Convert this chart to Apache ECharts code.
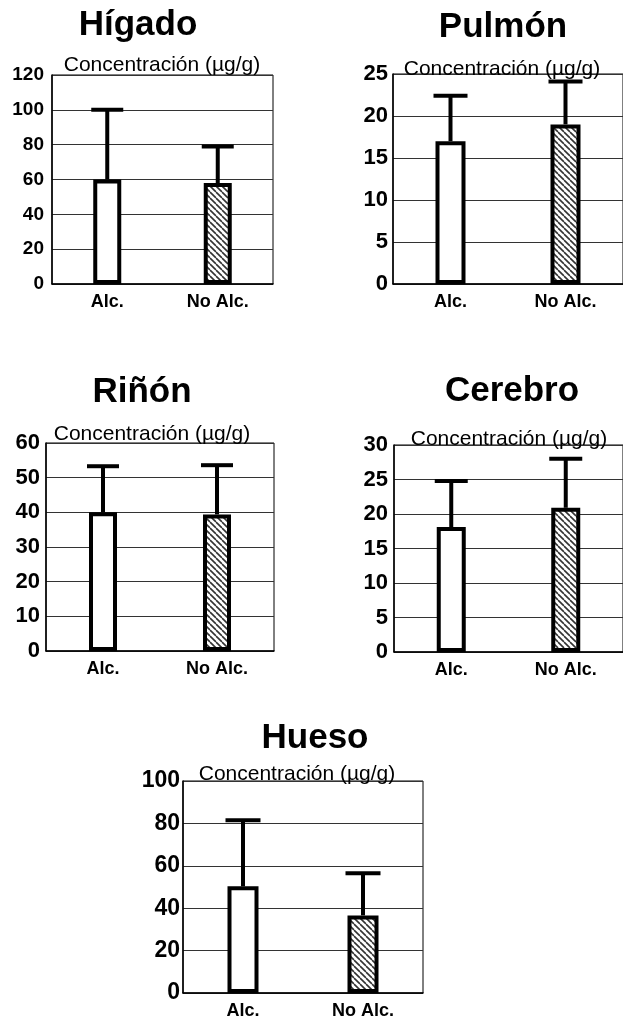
<!DOCTYPE html>
<html>
<head>
<meta charset="utf-8">
<script src="https://cdn.jsdelivr.net/npm/echarts@6/dist/echarts.min.js"></script>
<style>
  html, body { margin: 0; padding: 0; background: #fff; }
  #chart { width: 623px; height: 1020px; }
</style>
</head>
<body>
<div id="chart"></div>
<script>
// datos
var categorias = ['Alc.', 'No Alc.'];
var organos = ['Hígado', 'Pulmón', 'Riñón', 'Cerebro', 'Hueso'];
var unidad = 'Concentración (µg/g)';

var higadoMedia = [60, 58];
var higadoMax = [100, 79];
var pulmonMedia = [17, 19];
var pulmonMax = [22.4, 24.1];
var rinonMedia = [40, 39.4];
var rinonMax = [53.3, 53.6];
var cerebroMedia = [18.1, 20.9];
var cerebroMax = [24.8, 28];
var huesoMedia = [50.3, 36.6];
var huesoMax = [81.5, 56.5];

var yMax = [120, 25, 60, 30, 100];
var yPaso = [20, 5, 10, 5, 20];

var medias = [higadoMedia, pulmonMedia, rinonMedia, cerebroMedia, huesoMedia];
var maximos = [higadoMax, pulmonMax, rinonMax, cerebroMax, huesoMax];

// posicion de cada panel
var paneles = [
  { left: 52, top: 75, width: 221, height: 209, tx: 138, ty: 25, sx: 162, sy: 65, tick: 19, margen: 8, barra: 28 },
  { left: 393, top: 74, width: 236, height: 210, tx: 503, ty: 27, sx: 502, sy: 69, tick: 22, margen: 5, barra: 30 },
  { left: 46, top: 443, width: 228, height: 208, tx: 142, ty: 392, sx: 152, sy: 434, tick: 22, margen: 6, barra: 28 },
  { left: 394, top: 445, width: 234, height: 207, tx: 512, ty: 391, sx: 509, sy: 439, tick: 22, margen: 6, barra: 29 },
  { left: 183, top: 781, width: 240, height: 212, tx: 315, ty: 738, sx: 297, sy: 774, tick: 23, margen: 3, barra: 31 }
];

var fuente = '"Liberation Sans", Arial, Helvetica, sans-serif';

// rayado diagonal para "No Alc."
var rayado = document.createElement('canvas');
rayado.width = 6;
rayado.height = 6;
var ctx = rayado.getContext('2d');
ctx.fillStyle = '#fff';
ctx.fillRect(0, 0, 6, 6);
ctx.strokeStyle = '#333';
ctx.lineWidth = 1.6;
[-6, 0, 6].forEach(function (k) {
  ctx.beginPath();
  ctx.moveTo(k, 0);
  ctx.lineTo(k + 6, 6);
  ctx.stroke();
});

var grids = [], xAxes = [], yAxes = [], series = [], graphic = [];

paneles.forEach(function (p, i) {
  grids.push({
    left: p.left, top: p.top, width: p.width, height: p.height,
    show: true, borderColor: '#000', borderWidth: 1, backgroundColor: '#fff'
  });
  xAxes.push({
    type: 'category', gridIndex: i, data: categorias,
    axisLine: { lineStyle: { color: '#000', width: 1.5 } },
    axisTick: { show: false },
    axisLabel: { color: '#000', fontWeight: 'bold', fontSize: 18, fontFamily: fuente, margin: 9 }
  });
  yAxes.push({
    type: 'value', gridIndex: i, min: 0, max: yMax[i], interval: yPaso[i],
    axisLine: { show: true, lineStyle: { color: '#000', width: 1.5 } },
    axisTick: { show: false },
    splitLine: { lineStyle: { color: '#333', width: 1 } },
    axisLabel: { color: '#000', fontWeight: 'bold', fontSize: p.tick, fontFamily: fuente, margin: p.margen }
  });

  series.push({
    type: 'bar', xAxisIndex: i, yAxisIndex: i, barWidth: p.barra,
    data: medias[i].map(function (v, j) {
      return {
        value: v,
        itemStyle: {
          color: j === 0 ? '#fff' : { image: rayado, repeat: 'repeat' },
          borderColor: '#000', borderWidth: 4
        }
      };
    })
  });

  var medio = (p.barra + 4) / 2;
  series.push({
    type: 'custom', xAxisIndex: i, yAxisIndex: i, z: 5,
    data: medias[i].map(function (v, j) { return [j, v, maximos[i][j]]; }),
    renderItem: function (params, api) {
      var base = api.coord([api.value(0), api.value(1)]);
      var tope = api.coord([api.value(0), api.value(2)]);
      var estilo = { stroke: '#000', lineWidth: 4 };
      return {
        type: 'group',
        children: [
          { type: 'line', shape: { x1: base[0], y1: base[1], x2: tope[0], y2: tope[1] }, style: estilo },
          { type: 'line', shape: { x1: tope[0] - medio, y1: tope[1], x2: tope[0] + medio, y2: tope[1] }, style: estilo }
        ]
      };
    }
  });

  graphic.push({
    type: 'text', x: p.tx, y: p.ty, z: 10,
    style: { text: organos[i], font: 'bold 35px ' + fuente, fill: '#000', textAlign: 'center', textVerticalAlign: 'middle' }
  });
  graphic.push({
    type: 'text', x: p.sx, y: p.sy, z: 10,
    style: { text: unidad, font: '21px ' + fuente, fill: '#000', textAlign: 'center', textVerticalAlign: 'middle' }
  });
});

var chart = echarts.init(document.getElementById('chart'), null, { renderer: 'canvas' });
chart.setOption({
  animation: false,
  backgroundColor: '#fff',
  grid: grids,
  xAxis: xAxes,
  yAxis: yAxes,
  series: series,
  graphic: graphic
});
</script>
</body>
</html>
